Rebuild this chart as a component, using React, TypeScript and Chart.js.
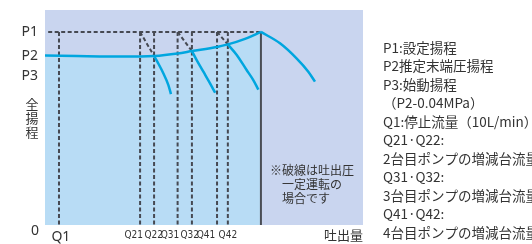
import React, { useEffect, useRef } from 'react';
import { Chart, registerables } from 'chart.js';

Chart.register(...registerables);

// ---- data (arbitrary units: flow 0..100, head 0..100) ----
const P1 = 89.8;
const P2 = 78.8;
const P3 = 69.4;
const yTickValues = [P1, P2, P3];
const yTickLabels = ['P1', 'P2', 'P3'];

const qLineValues = [4.4, 29.9, 34.3, 41.7, 46.2, 54.1, 57.5]; // Q1, Q21, Q22, Q31, Q32, Q41, Q42
const qMax = 67.9;

const xTickLabels = ['Q1', 'Q21', 'Q22', 'Q31', 'Q32', 'Q41', 'Q42'];
const xTickValues = [5.0, 27.9, 34.2, 39.3, 45.5, 50.6, 57.5];

// estimated end-pressure (P2 -> P1) curve
const systemX = [0, 10, 20, 30, 34.3, 41.7, 46.2, 54.1, 57.5, 62.9, 67.9];
const systemY = [78.8, 78.6, 78.4, 78.4, 78.6, 79.8, 80.9, 82.8, 84.0, 86.6, 89.8];

// pump curves after each staging point
const pump2X = [34.3, 35.6, 37.2, 38.8, 39.6];
const pump2Y = [78.6, 75.2, 70.6, 65.1, 60.9];
const pump3X = [46.2, 47.7, 49.8, 51.9, 53.5];
const pump3Y = [80.9, 76.7, 71.3, 65.9, 61.5];
const pump4X = [57.5, 60.3, 63.4, 65.5, 67.1];
const pump4Y = [84.0, 79.1, 72.1, 67.4, 63.0];
const lastX = [67.9, 73.9, 79.1, 82.8, 84.9];
const lastY = [89.8, 84.5, 77.5, 71.3, 66.7];

// diagonal dashed lines: from (Qn1, P1) to (Qn2, curve)
const diagStartX = [29.9, 41.7, 54.1];
const diagEndX = [34.3, 46.2, 57.5];
const diagEndY = [78.6, 80.9, 84.0];

const legendLines = [
  'P1:設定揚程',
  'P2推定末端圧揚程',
  'P3:始動揚程',
  '（P2-0.04MPa）',
  'Q1:停止流量（10L/min）',
  'Q21·Q22:',
  '2台目ポンプの増減台流量',
  'Q31·Q32:',
  '3台目ポンプの増減台流量',
  'Q41·Q42:',
  '4台目ポンプの増減台流量',
];
const noteLines = ['※破線は吐出圧', '一定運転の', '場合です'];

const CYAN = '#00a6df';
const DASH = '#464952';
const LAVENDER = '#c9d5ef';
const LIGHTBLUE = '#b8dcf5';
const TEXT = '#333333';
const JP = "'Noto Sans CJK JP', 'Noto Sans', sans-serif";

const zip = (xs: number[], ys: number[]) => xs.map((x, i) => ({ x, y: ys[i] }));

export default function App() {
  const ref = useRef<HTMLCanvasElement | null>(null);

  useEffect(() => {
    if (!ref.current) return;

    const verticals: any[] = [];
    qLineValues.forEach((q) => {
      verticals.push({ x: q, y: P1 }, { x: q, y: 0 }, { x: q, y: null });
    });
    const diagonals: any[] = [];
    diagStartX.forEach((x, i) => {
      diagonals.push({ x, y: P1 }, { x: diagEndX[i], y: diagEndY[i] }, { x: diagEndX[i], y: null });
    });

    const bgPlugin = {
      id: 'bg',
      beforeDraw(chart: any) {
        const { ctx, chartArea: a } = chart;
        ctx.save();
        ctx.fillStyle = LAVENDER;
        ctx.fillRect(a.left, a.top, a.right - a.left, a.bottom - a.top);
        ctx.restore();
      },
    };

    const textPlugin = {
      id: 'texts',
      afterDraw(chart: any) {
        const { ctx } = chart;
        ctx.save();
        ctx.fillStyle = TEXT;
        ctx.textBaseline = 'middle';
        // legend on the right
        ctx.font = `13.5px ${JP}`;
        ctx.textAlign = 'left';
        legendLines.forEach((t, i) => ctx.fillText(t, 383, 47.5 + i * 18.5));
        // note
        ctx.font = `12px ${JP}`;
        ctx.fillText(noteLines[0], 270, 170);
        ctx.fillText(noteLines[1], 282, 184);
        ctx.fillText(noteLines[2], 282, 198);
        // origin
        ctx.font = `14px 'Noto Sans', sans-serif`;
        ctx.textAlign = 'center';
        ctx.fillText('0', 35, 231);
        // axis titles
        ctx.font = `13px ${JP}`;
        ctx.fillText('全', 32, 104);
        ctx.fillText('揚', 32, 118);
        ctx.fillText('程', 32, 132);
        ctx.textAlign = 'right';
        ctx.fillText('吐出量', 363, 235);
        ctx.restore();
      },
    };

    const dashed = {
      showLine: true,
      spanGaps: false,
      borderColor: DASH,
      borderWidth: 2,
      borderDash: [4, 2.5],
      pointRadius: 0,
      fill: false,
      order: 2,
    };

    const chart = new Chart(ref.current, {
      type: 'scatter',
      data: {
        datasets: [
          {
            label: 'system',
            data: zip(systemX, systemY),
            showLine: true,
            borderColor: CYAN,
            borderWidth: 2.5,
            backgroundColor: LIGHTBLUE,
            fill: 'origin',
            pointRadius: 0,
            cubicInterpolationMode: 'monotone',
            order: 1,
          },
          ...[zip(pump2X, pump2Y), zip(pump3X, pump3Y), zip(pump4X, pump4Y), zip(lastX, lastY)].map(
            (d) => ({
              data: d,
              showLine: true,
              borderColor: CYAN,
              borderWidth: 2.5,
              pointRadius: 0,
              fill: false,
              cubicInterpolationMode: 'monotone',
              order: 1,
            })
          ),
          {
            ...dashed,
            data: [
              { x: 1, y: P1 },
              { x: qMax, y: P1 },
            ],
          },
          { ...dashed, data: verticals },
          { ...dashed, data: diagonals },
          {
            data: [
              { x: qMax, y: P1 },
              { x: qMax, y: 0 },
            ],
            showLine: true,
            borderColor: '#4a4d55',
            borderWidth: 2,
            pointRadius: 0,
            fill: false,
            order: 2,
          },
        ] as any,
      },
      options: {
        responsive: false,
        animation: false,
        layout: { padding: { top: 10, right: 169, left: 0, bottom: 0 } },
        plugins: {
          legend: { display: false },
          tooltip: { enabled: false },
          filler: { drawTime: 'beforeDatasetsDraw' },
        } as any,
        scales: {
          x: {
            type: 'linear',
            min: 0,
            max: 100,
            grid: { display: false, drawTicks: false },
            border: { display: false },
            afterFit: (s: any) => {
              s.height = 19;
              s.paddingLeft = 0;
              s.paddingRight = 0;
            },
            afterBuildTicks: (s: any) => {
              s.ticks = xTickValues.map((v) => ({ value: v }));
            },
            ticks: {
              autoSkip: false,
              maxRotation: 0,
              padding: 4,
              color: TEXT,
              callback: (_v: any, i: number) => xTickLabels[i],
              font: (c: any) =>
                c.index === 0
                  ? { family: "'Noto Sans', sans-serif", size: 14 }
                  : { family: "'Liberation Sans Narrow', 'DejaVu Sans Condensed', sans-serif", size: 10 },
            },
          },
          y: {
            type: 'linear',
            min: 0,
            max: 100,
            grid: { display: false, drawTicks: false },
            border: { display: false },
            afterFit: (s: any) => {
              s.width = 45;
              s.paddingTop = 0;
              s.paddingBottom = 0;
            },
            afterBuildTicks: (s: any) => {
              s.ticks = yTickValues.map((v) => ({ value: v }));
            },
            ticks: {
              autoSkip: false,
              padding: 7,
              color: TEXT,
              font: { family: "'Noto Sans', sans-serif", size: 14 },
              callback: (_v: any, i: number) => yTickLabels[i],
            },
          },
        },
      } as any,
      plugins: [bgPlugin, textPlugin],
    });

    return () => chart.destroy();
  }, []);

  return (
    <div style={{ position: 'absolute', left: 0, top: 0, width: 532, height: 244, background: '#fff' }}>
      <canvas ref={ref} width={532} height={244} style={{ width: 532, height: 244, display: 'block' }} />
    </div>
  );
}
